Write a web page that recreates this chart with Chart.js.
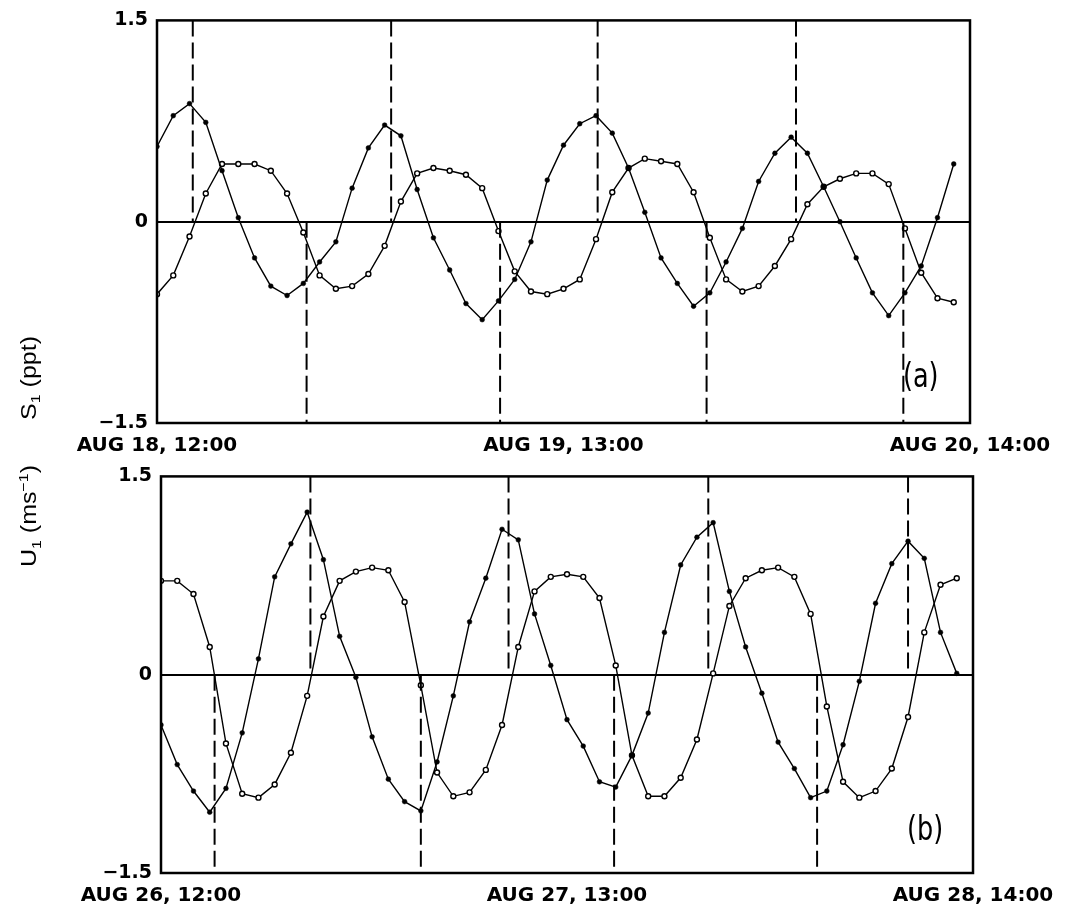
<!DOCTYPE html>
<html>
<head>
<meta charset="utf-8">
<script src="https://cdn.jsdelivr.net/npm/chart.js@4/dist/chart.umd.min.js"></script>
<style>
  html, body { margin: 0; padding: 0; background: #fff; }
  #page { position: relative; width: 1065px; height: 907px; overflow: hidden; background: #fff; }
  canvas { position: absolute; left: 0; }
  .ylab { position: absolute; white-space: nowrap; transform: translate(-50%, -50%) rotate(-90deg) scale(1, 0.85);
          font-family: "Liberation Sans", Arial, sans-serif;
          font-size: 25px; color: #000; line-height: 1; }
  .ylab sub { font-size: 16px; vertical-align: -5px; }
  .ylab sup { font-size: 16px; vertical-align: 10px; }
  .plab { position: absolute; font-family: "Liberation Sans Narrow", "DejaVu Sans Condensed", "Liberation Sans", sans-serif;
          font-size: 33px; color: #000; line-height: 1; white-space: nowrap;
          transform: scale(0.86, 1); transform-origin: left top; }
</style>
</head>
<body>
<div id="page">
  <canvas id="chartA" width="1065" height="456" style="top:0px"></canvas>
  <canvas id="chartB" width="1065" height="451" style="top:456px"></canvas>
  <div class="ylab" style="left:30px; top:378px;">S<sub>1</sub> (ppt)</div>
  <div class="ylab" style="left:30px; top:516px;">U<sub>1</sub> (ms<sup>−1</sup>)</div>
  <div class="plab" style="left:903px; top:359px;">(a)</div>
  <div class="plab" style="left:907px; top:812px;">(b)</div>
</div>
<script>
// ---------- data ----------
const hours = [0,1,2,3,4,5,6,7,8,9,10,11,12,13,14,15,16,17,18,19,20,21,22,23,24,
               25,26,27,28,29,30,31,32,33,34,35,36,37,38,39,40,41,42,43,44,45,46,47,48,49];

// panel (a): S1 (ppt)
const salSharp = [0.56, 0.79, 0.88, 0.74, 0.38, 0.03, -0.27, -0.48, -0.55, -0.46,
                  -0.30, -0.15, 0.25, 0.55, 0.72, 0.64, 0.24, -0.12, -0.36, -0.61,
                  -0.73, -0.59, -0.43, -0.15, 0.31, 0.57, 0.73, 0.79, 0.66, 0.40,
                  0.07, -0.27, -0.46, -0.63, -0.53, -0.30, -0.05, 0.30, 0.51, 0.63,
                  0.51, 0.26, 0.00, -0.27, -0.53, -0.70, -0.53, -0.33, 0.03, 0.43];
const salFlat  = [-0.54, -0.40, -0.11, 0.21, 0.43, 0.43, 0.43, 0.38, 0.21, -0.08,
                  -0.40, -0.50, -0.48, -0.39, -0.18, 0.15, 0.36, 0.40, 0.38, 0.35,
                  0.25, -0.07, -0.37, -0.52, -0.54, -0.50, -0.43, -0.13, 0.22, 0.40,
                  0.47, 0.45, 0.43, 0.22, -0.12, -0.43, -0.52, -0.48, -0.33, -0.13,
                  0.13, 0.26, 0.32, 0.36, 0.36, 0.28, -0.05, -0.38, -0.57, -0.60];
const dashTopA    = [2.2, 14.4, 27.1, 39.3];
const dashBottomA = [9.2, 21.1, 33.8, 45.9];

// panel (b): U1 (m/s)
const velSharp = [-0.38, -0.68, -0.88, -1.04, -0.86, -0.44, 0.12, 0.74, 0.99, 1.23,
                  0.87, 0.29, -0.02, -0.47, -0.79, -0.96, -1.03, -0.66, -0.16, 0.40,
                  0.73, 1.10, 1.02, 0.46, 0.07, -0.34, -0.54, -0.81, -0.85, -0.61,
                  -0.29, 0.32, 0.83, 1.04, 1.15, 0.63, 0.21, -0.14, -0.51, -0.71,
                  -0.93, -0.88, -0.53, -0.05, 0.54, 0.84, 1.01, 0.88, 0.32, 0.01];
const velFlat  = [0.71, 0.71, 0.61, 0.21, -0.52, -0.90, -0.93, -0.83, -0.59, -0.16,
                  0.44, 0.71, 0.78, 0.81, 0.79, 0.55, -0.08, -0.74, -0.92, -0.89,
                  -0.72, -0.38, 0.21, 0.63, 0.74, 0.76, 0.74, 0.58, 0.07, -0.61,
                  -0.92, -0.92, -0.78, -0.49, 0.01, 0.52, 0.73, 0.79, 0.81, 0.74,
                  0.46, -0.24, -0.81, -0.93, -0.88, -0.71, -0.32, 0.32, 0.68, 0.73];
const dashTopB    = [9.2, 21.4, 33.7, 46.0];
const dashBottomB = [3.3, 16.0, 27.9, 40.4];

// tick labels
const xTickPos = [0, 25, 50];
const xLabelsA = ["AUG 18, 12:00", "AUG 19, 13:00", "AUG 20, 14:00"];
const xLabelsB = ["AUG 26, 12:00", "AUG 27, 13:00", "AUG 28, 14:00"];
const yTickPos = [-1.5, 0, 1.5];
const yLabels  = ["\u22121.5", "0", "1.5"];

// ---------- helpers ----------
function xy(xs, ys) { return xs.map((x, i) => ({ x: x, y: ys[i] })); }
function dashes(list, y0, y1) {
  const out = [];
  list.forEach(h => { out.push({ x: h, y: y0 }, { x: h, y: y1 }, { x: h, y: null }); });
  return out;
}

const framePlugin = {
  id: 'frame',
  afterDatasetsDraw(chart) {
    const a = chart.chartArea, c = chart.ctx;
    c.save();
    c.strokeStyle = '#000';
    c.lineWidth = 2.5;
    c.strokeRect(a.left, a.top, a.right - a.left, a.bottom - a.top);
    c.restore();
  }
};

function build(id, sharp, flat, dTop, dBot, xLabels, geo) {
  const ctx = document.getElementById(id);
  return new Chart(ctx, {
    type: 'line',
    data: {
      datasets: [
        { data: dashes(dTop, 1.5, 0), borderColor: '#000', borderWidth: 2, borderDash: [16, 6],
          pointRadius: 0, spanGaps: false, tension: 0 },
        { data: dashes(dBot, 0, -1.5), borderColor: '#000', borderWidth: 2, borderDash: [16, 6],
          pointRadius: 0, spanGaps: false, tension: 0 },
        { data: xy(hours, sharp), borderColor: '#000', borderWidth: 1.4, tension: 0,
          pointRadius: 2.4, pointBackgroundColor: '#000', pointBorderColor: '#000', pointBorderWidth: 0.5 },
        { data: xy(hours, flat), borderColor: '#000', borderWidth: 1.4, tension: 0,
          pointRadius: 2.5, pointBackgroundColor: '#fff', pointBorderColor: '#000', pointBorderWidth: 1.4 }
      ]
    },
    options: {
      responsive: false,
      animation: false,
      devicePixelRatio: 1,
      layout: { padding: { top: geo.top, right: geo.right, left: 0, bottom: 0 } },
      plugins: { legend: { display: false }, tooltip: { enabled: false } },
      scales: {
        x: {
          type: 'linear', min: 0, max: 50,
          afterBuildTicks: s => { s.ticks = xTickPos.map(v => ({ value: v })); },
          afterFit: s => { s.height = geo.xh; },
          ticks: {
            autoSkip: false, maxRotation: 0, minRotation: 0, padding: 11, color: '#000',
            font: { family: 'DejaVu Sans', weight: 'bold', size: 20 },
            callback: (v, i) => xLabels[i]
          },
          grid: { display: false, drawTicks: false },
          border: { display: false }
        },
        y: {
          min: -1.5, max: 1.5,
          afterBuildTicks: s => { s.ticks = yTickPos.map(v => ({ value: v })); },
          afterFit: s => { s.width = geo.left; },
          ticks: {
            padding: 9, color: '#000',
            font: { family: 'DejaVu Sans', weight: 'bold', size: 19 },
            callback: (v, i) => yLabels[i]
          },
          grid: {
            drawTicks: false,
            color: c => (c.tick && c.tick.value === 0) ? '#000' : 'rgba(0,0,0,0)',
            lineWidth: c => (c.tick && c.tick.value === 0) ? 2 : 0
          },
          border: { display: false }
        }
      }
    },
    plugins: [framePlugin]
  });
}

build('chartA', salSharp, salFlat, dashTopA, dashBottomA, xLabelsA,
      { top: 16, right: 95, left: 157, xh: 33 });
build('chartB', velSharp, velFlat, dashTopB, dashBottomB, xLabelsB,
      { top: 12, right: 92, left: 161, xh: 34 });
</script>
</body>
</html>
